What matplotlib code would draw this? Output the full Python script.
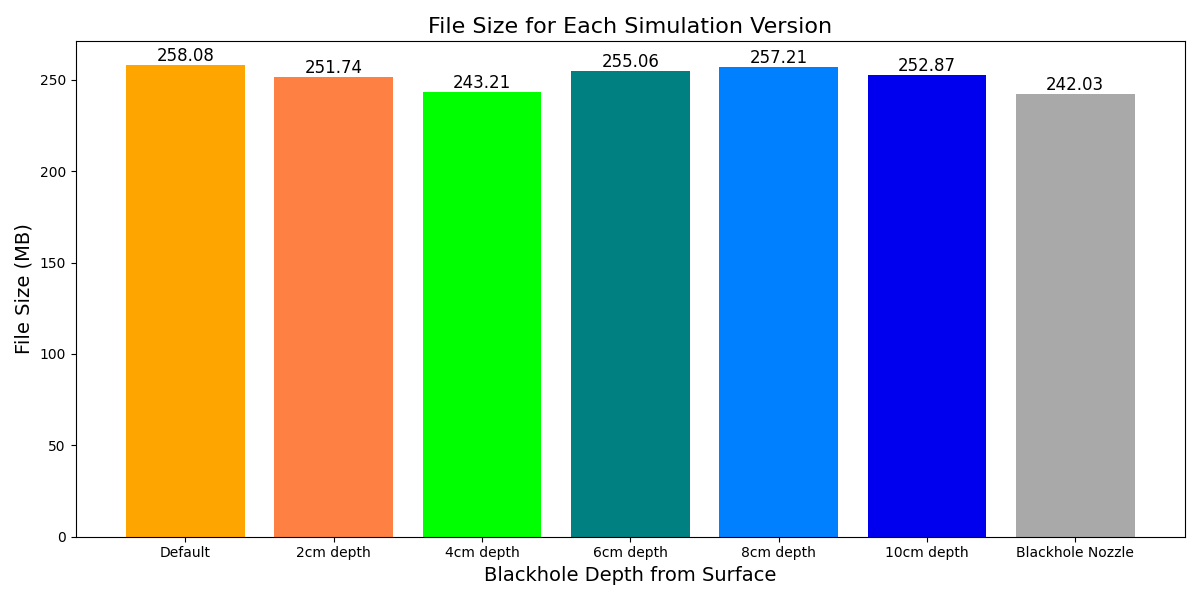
import matplotlib
matplotlib.use("Agg")
import matplotlib.pyplot as plt

categories = ["Default", "2cm depth", "4cm depth", "6cm depth", "8cm depth", "10cm depth", "Blackhole Nozzle"]
sizes = [258.08, 251.74, 243.21, 255.06, 257.21, 252.87, 242.03]
colors = ["#FFA500", "#FF8043", "#00FF00", "#008080", "#007FFF", "#0000EE", "#A9A9A9"]

fig, ax = plt.subplots(figsize=(12, 6), dpi=100)
bars = ax.bar(categories, sizes, color=colors)
for b, v in zip(bars, sizes):
    ax.text(b.get_x() + b.get_width() / 2, b.get_height(), f"{v:.2f}",
            ha="center", va="bottom", fontsize=12)
ax.set_title("File Size for Each Simulation Version", fontsize=16)
ax.set_xlabel("Blackhole Depth from Surface", fontsize=14)
ax.set_ylabel("File Size (MB)", fontsize=14)
fig.tight_layout()
fig.subplots_adjust(top=0.931)
fig.savefig("out.png")
